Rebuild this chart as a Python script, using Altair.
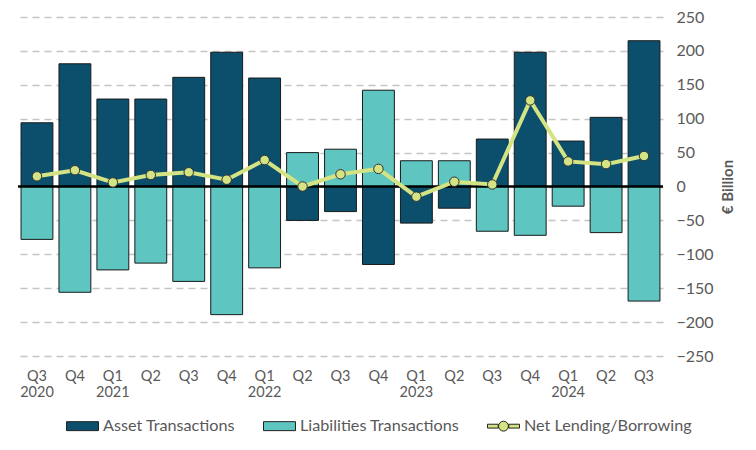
import altair as alt
import pandas as pd

quarters = ["Q3 2020", "Q4 2020", "Q1 2021", "Q2 2021", "Q3 2021", "Q4 2021",
            "Q1 2022", "Q2 2022", "Q3 2022", "Q4 2022", "Q1 2023", "Q2 2023",
            "Q3 2023", "Q4 2023", "Q1 2024", "Q2 2024", "Q3 2024"]
asset = [94, 181, 129, 129, 161, 198, 160, -50, -37, -115, -54, -32, 70, 198, 67, 102, 215]
liab = [-78, -156, -123, -113, -140, -189, -120, 50, 55, 142, 38, 38, -66, -72, -29, -68, -169]
net = [15, 24, 6, 17, 21, 10, 39, 0, 18, 26, -15, 7, 3, 127, 37, 33, 45]
series_names = ["Asset Transactions", "Liabilities Transactions", "Net Lending/Borrowing"]
colors = ["#0b4f6c", "#5ec5c1", "#d4e383"]
year_labels = ["Q3 2020", "Q1 2021", "Q1 2022", "Q1 2023", "Q1 2024"]
y_ticks = [-250, -200, -150, -100, -50, 0, 50, 100, 150, 200, 250]

bars_df = pd.DataFrame({
    "quarter": quarters * 2,
    "value": asset + liab,
    "series": [series_names[0]] * len(quarters) + [series_names[1]] * len(quarters),
})
net_df = pd.DataFrame({"quarter": quarters, "value": net, "series": series_names[2]})
zero_df = pd.DataFrame({"value": [0]})

FONT = "Lato"
GRAY = "#595959"

rect_path = "M-1,-0.28 H1 V0.28 H-1 Z"
net_path = ("M-1,-0.12 H-0.33 V0.12 H-1 Z M0.33,-0.12 H1 V0.12 H0.33 Z "
            "M-0.31,0 A0.31,0.31 0 1,0 0.31,0 A0.31,0.31 0 1,0 -0.31,0 Z")

label_expr = ("indexof(" + str(year_labels) + ", datum.value) >= 0 ? "
              "split(datum.value, ' ') : split(datum.value, ' ')[0]")

x_axis = alt.Axis(labelAngle=0, labelExpr=label_expr, domain=False, ticks=False,
                  labelPadding=13, labelFontSize=14.5, labelColor=GRAY,
                  labelLineHeight=16, labelFont=FONT)
x_scale = alt.Scale(paddingInner=0.16, paddingOuter=0.08)


def xenc():
    return alt.X("quarter:N", sort=quarters, title=None, scale=x_scale, axis=x_axis)


y_scale = alt.Scale(domain=[-250, 250], nice=False, zero=True)
y_axis = alt.Axis(orient="right", values=y_ticks, domain=False, ticks=False,
                  grid=True, gridDash=[7, 5], gridColor="#c4c4c4", gridWidth=1.5,
                  labelPadding=13, labelFontSize=16, labelColor=GRAY, labelFont=FONT,
                  labelAlign="left", titleAngle=270, titleFontSize=15,
                  titleFontWeight="bold", titleColor=GRAY, titleFont=FONT,
                  titlePadding=22)


def yenc(stack=False):
    if stack:
        return alt.Y("value:Q", scale=y_scale, stack=None, title="€ Billion", axis=y_axis)
    return alt.Y("value:Q", scale=y_scale, title="€ Billion", axis=y_axis)


legend = alt.Legend(title=None, orient="none", direction="horizontal",
                    legendX=48, legendY=392.5,
                    labelFontSize=16.2, labelColor=GRAY, labelFont=FONT, labelLimit=400,
                    symbolSize=1024, columnPadding=25, labelOffset=4,
                    symbolStrokeColor="#222", symbolStrokeWidth=1)
color_scale = alt.Scale(domain=series_names, range=colors)

bars = alt.Chart(bars_df).mark_bar(stroke="#1a1a1a", strokeWidth=1).encode(
    x=xenc(),
    y=yenc(stack=True),
    color=alt.Color("series:N", scale=color_scale, legend=legend),
)

zero = alt.Chart(zero_df).mark_rule(color="black", strokeWidth=2.5).encode(
    y=yenc()
)

line = alt.Chart(net_df).mark_line(color=colors[2], strokeWidth=4).encode(
    x=xenc(),
    y=yenc(),
)
points = alt.Chart(net_df).mark_point(filled=True, fill=colors[2], stroke="#333",
                                      strokeWidth=1, size=90, opacity=1).encode(
    x=xenc(),
    y=yenc(),
)

legend_layer = alt.Chart(net_df).transform_filter("datum.value > 100000").mark_point(
    filled=True, size=1024, stroke="#222", strokeWidth=1, opacity=1).encode(
    x=xenc(),
    y=yenc(),
    color=alt.Color("series:N", scale=color_scale, legend=legend),
    shape=alt.Shape("series:N", scale=alt.Scale(domain=series_names,
                                                range=[rect_path, rect_path, net_path]),
                    legend=legend),
)

chart = alt.layer(bars, zero, line, points, legend_layer).properties(
    width=645, height=339,
    padding={"left": 10, "top": 9, "right": 85, "bottom": 86},
    autosize=alt.AutoSizeParams(type="none"),
).configure(font=FONT).configure_view(stroke=None)

chart.save("out.html", embed_options={"renderer": "svg", "actions": False})
